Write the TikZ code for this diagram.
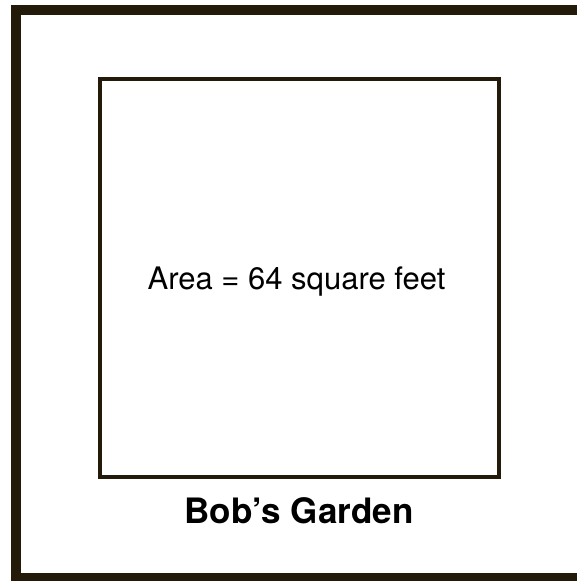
\documentclass[tikz,border=0pt]{standalone}
\usepackage{fontspec}
\setmainfont{TeX Gyre Heros}
\usetikzlibrary{positioning}
\definecolor{cadre}{RGB}{35,26,10}
\tikzset{jardin/.style={draw=cadre,line width=4pt,minimum width=398.7pt,minimum height=398pt,inner sep=0pt}}

\begin{document}
\begin{tikzpicture}[x=1pt,y=-1pt]
% Cadre
\useasboundingbox (0,0) rectangle (577,581);
\clip (0,0) rectangle (577,581);
\draw[cadre,line width=10pt] (15.5,10) rectangle (592,578);
% Jardin
\node[jardin] (garden) at (299.35,278) {};
\node[anchor=base,font=\fontsize{31}{31}\selectfont] (area) at (296.5,289) {Area = 64 square feet};
\node[anchor=base,font=\fontsize{35}{35}\selectfont\bfseries] (name) at (299,523) {Bob’s Garden};
\end{tikzpicture}
\end{document}
